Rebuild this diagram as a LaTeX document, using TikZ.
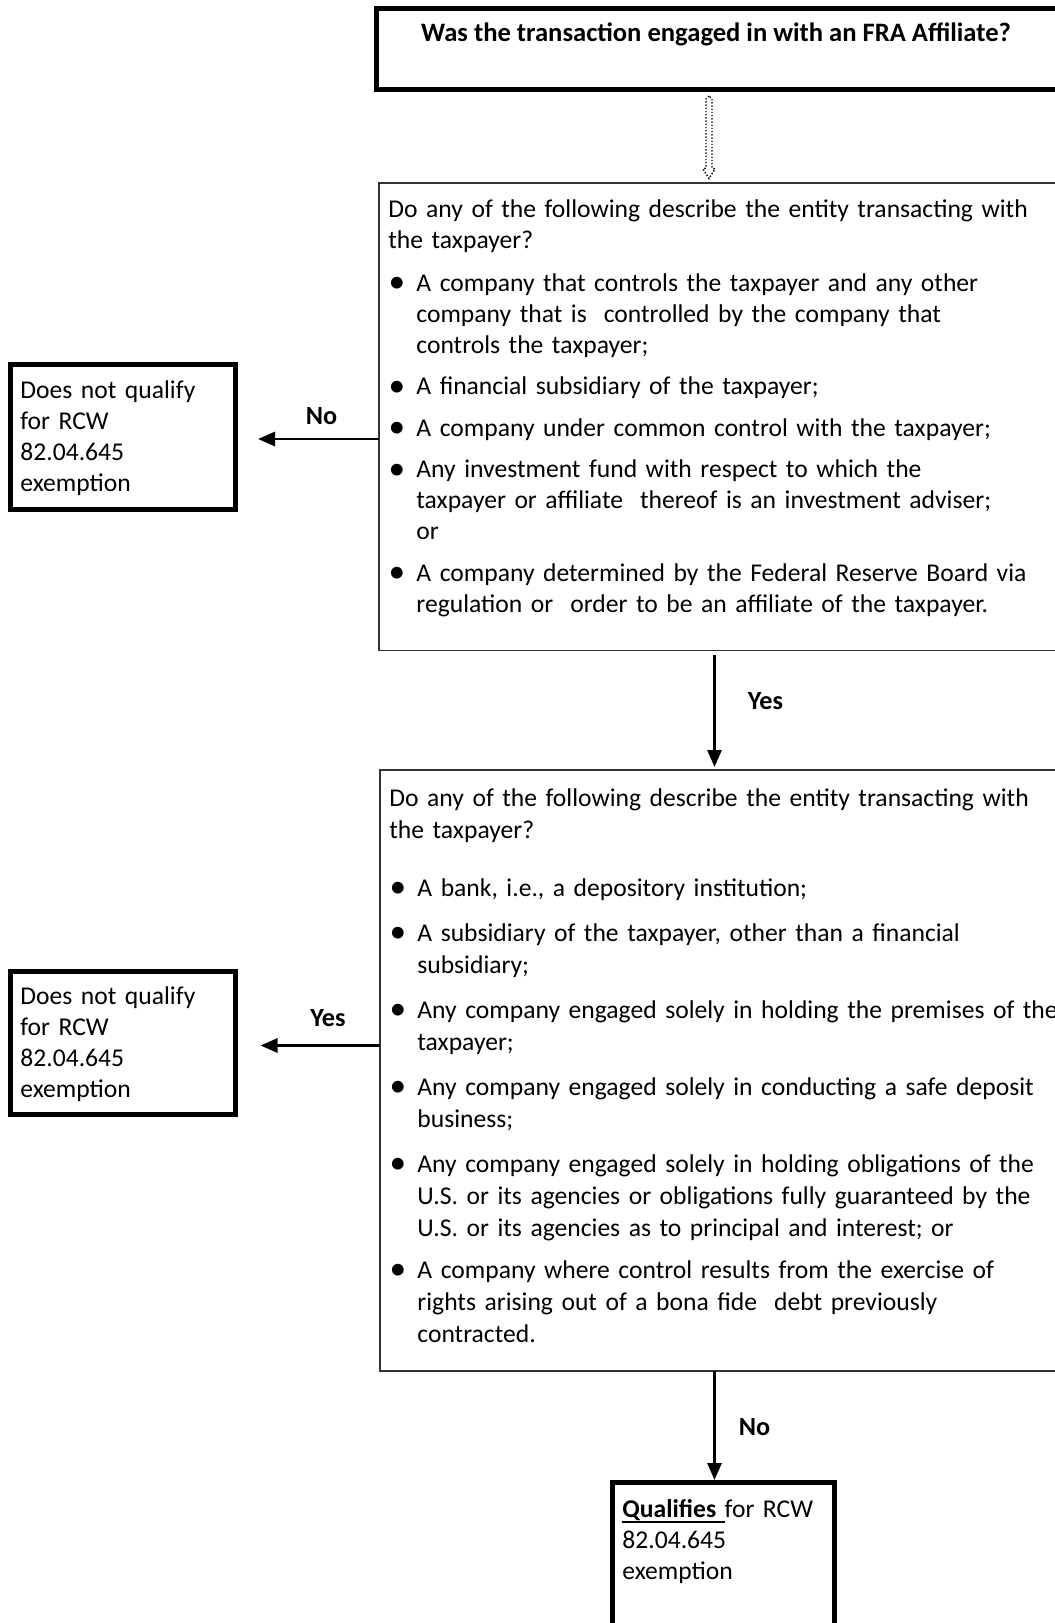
\documentclass[tikz,border=0pt]{standalone}
\usepackage{fontspec}
\setmainfont{Carlito}
\usepackage{enumitem}
\usetikzlibrary{arrows.meta,calc}

\newcommand{\bodysize}{\fontsize{12.8pt}{15.5pt}\selectfont}
\newcommand{\ulword}[1]{\leavevmode\setbox0=\hbox{#1}\rlap{\rule[-2.6pt]{\wd0}{0.85pt}}\box0}
\newcommand{\bigdot}{\makebox[8.5pt]{\raisebox{-0.7pt}{\scalebox{1.3}{\textbullet}}}}

\tikzset{
  heavybox/.style={draw, line width=2.5pt, anchor=north west, inner sep=0pt, outer sep=0pt},
  lightbox/.style={draw=black!80, line width=0.75pt, anchor=north west, inner sep=0pt, outer sep=0pt},
  boxtext/.style={anchor=north west, inner sep=0pt, align=left, text width=400pt, font=\bodysize},
  answer/.style={inner sep=0pt, font=\fontsize{13.1pt}{15.5pt}\selectfont\bfseries},
  flow/.style={line width=1.4pt, -{Triangle[length=8.5pt,width=7pt]}},
  dotline/.style={line width=0.7pt, dash pattern=on 0.7pt off 0.9pt},
}

\begin{document}
\begin{tikzpicture}[x=0.5pt,y=-0.5pt]
  \useasboundingbox (0,0) rectangle (1055,1623);
  % boxes
  \node[heavybox, minimum width=350pt, minimum height=40.5pt] (fra) at (376.5,8.5) {};
  \node[answer, font=\fontsize{13.3pt}{15.5pt}\selectfont\bfseries] (fratext) at (716,34) {Was the transaction engaged in with an FRA Affiliate?};
  \node[lightbox, minimum width=350pt, minimum height=233.75pt] (q1) at (379,183) {};
  \node[lightbox, minimum width=350pt, minimum height=300.5pt] (q2) at (380,770) {};
  \node[heavybox, minimum width=112.5pt, minimum height=72.5pt] (nobox) at (10.5,364.5) {};
  \node[heavybox, minimum width=112.5pt, minimum height=71.5pt] (yesbox) at (10.5,971) {};
  \node[heavybox, minimum width=111pt, minimum height=100pt] (qual) at (612.5,1482.5) {};
  % texts
  \node[boxtext] (q1text) at (388,199) {Do any of the following describe the entity transacting with\\
    the taxpayer?
    \begin{itemize}[label=\bigdot, leftmargin=14pt, labelindent=0pt, labelwidth=8.5pt, labelsep=5.5pt, align=left,
      topsep=6pt, itemsep=5.25pt, parsep=0pt]
    \item A company that controls the taxpayer and any other\\ company that is\ \ controlled by the company that\\ controls the taxpayer;
    \item A financial subsidiary of the taxpayer;
    \item A company under common control with the taxpayer;
    \item Any investment fund with respect to which the\\ taxpayer or affiliate\ \ thereof is an investment adviser;\\ or
    \item A company determined by the Federal Reserve Board via\\ regulation or\ \ order to be an affiliate of the taxpayer.
    \end{itemize}};
  \node[boxtext, font=\fontsize{12.8pt}{16pt}\selectfont] (q2text) at (389,788) {Do any of the following describe the entity transacting with\\
    the taxpayer?
    \begin{itemize}[label=\bigdot, leftmargin=14pt, labelindent=0pt, labelwidth=8.5pt, labelsep=5.5pt, align=left,
      topsep=13pt, itemsep=6.5pt, parsep=0pt]
    \item A bank, i.e., a depository institution;
    \item A subsidiary of the taxpayer, other than a financial\\ subsidiary;
    \item Any company engaged solely in holding the premises of the\\ taxpayer;
    \item Any company engaged solely in conducting a safe deposit\\ business;
    \item Any company engaged solely in holding obligations of the\\ U.S. or its agencies or obligations fully guaranteed by the\\ U.S. or its agencies as to principal and interest; or
    \vspace{-1.5pt}
    \item A company where control results from the exercise of\\ rights arising out of a bona fide\ \ debt previously\\ contracted.
    \end{itemize}};
  \node[boxtext] (notext) at (20,380) {Does not qualify\\ for RCW\\ 82.04.645\\ exemption};
  \node[boxtext] (yestext) at (20,986) {Does not qualify\\ for RCW\\ 82.04.645\\ exemption};
  \node[boxtext] (qualtext) at (622,1499) {\ulword{\textbf{Qualifies} }for RCW\\ 82.04.645\\ exemption};
  % connectors
  \coordinate (dotx) at (709,0);
  \coordinate (spine) at (714.5,0);
  \draw[dotline] ($(fra.south -| dotx)+(0,6.5)$) -- ++(-3,3) -- ++(0,69) -- ++(-3,1)
    -- ($(q1.north -| dotx)+(0,-4.5)$) -- ++(6,-9.5) -- ++(-3,-1) -- ++(0,-69) -- cycle;
  \draw[flow, shorten >=11.25pt] ($(q1.west |- nobox.east)+(0,2)$) -- node[answer, pos=0.4, above=6.3pt] (nolbl) {No} ($(nobox.east)+(0,2)$);
  \draw[flow, shorten <=2pt, shorten >=1.5pt] (q1.south -| spine) -- node[answer, pos=0.42, right=16pt] (yeslbl) {Yes} (q2.north -| spine);
  \draw[flow, shorten >=12.5pt] ($(q2.west |- yesbox.east)+(0,3)$) -- node[answer, pos=0.36, above=8.8pt] (yeslbl2) {Yes} ($(yesbox.east)+(0,3)$);
  \draw[flow, shorten >=1.25pt] (q2.south -| spine) -- node[answer, midway, right=11.5pt] (nolbl2) {No} (qual.north -| spine);
\end{tikzpicture}
\end{document}
